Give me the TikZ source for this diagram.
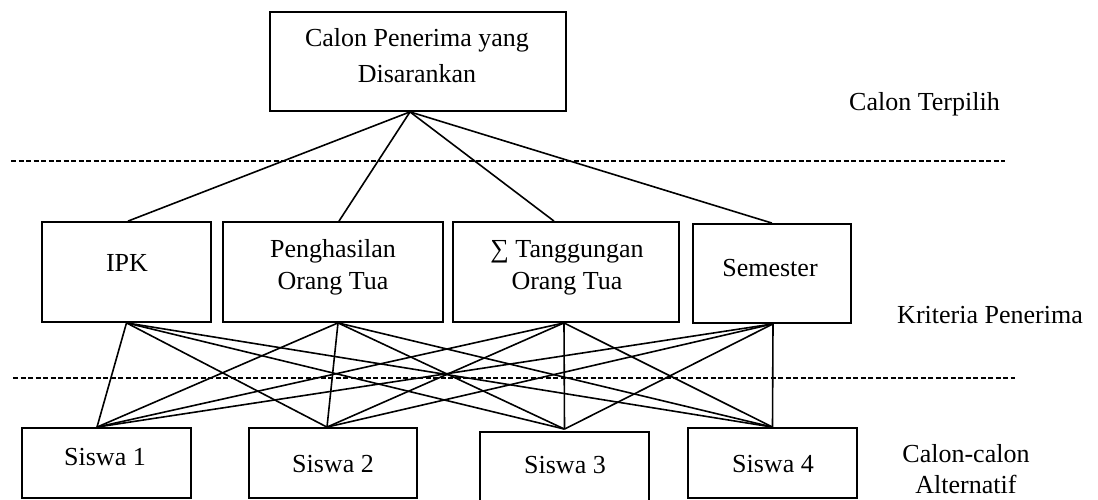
\documentclass[tikz,border=0pt]{standalone}
\usepackage{fontspec}
\setmainfont{Liberation Serif}
\begin{document}
\begin{tikzpicture}[x=1pt,y=-1pt,
  box/.style={draw, line width=1.8pt, inner sep=0pt},
  txt/.style={inner sep=0pt, align=center, font=\fontsize{26}{32}\selectfont},
  link/.style={line width=1.6pt},
  sep/.style={dash pattern=on 5pt off 2.5pt, line width=1.4pt}]
\useasboundingbox (0,0) rectangle (1098,500);

% top level
\node[box, minimum width=296pt, minimum height=99pt] (goal) at (418,61.5) {};
\node[txt] (goalT) at (417,56) {Calon Penerima yang\\[4pt]Disarankan};

% criteria
\node[box, minimum width=169pt, minimum height=100pt] (ipk)  at (126.5,272) {};
\node[box, minimum width=220pt, minimum height=100pt] (peng) at (333,272) {};
\node[box, minimum width=226pt, minimum height=100pt] (tang) at (566,272) {};
\node[box, minimum width=158pt, minimum height=99pt]  (sem)  at (772,273.5) {};
\node[txt] (ipkT)  at (127,263) {IPK};
\node[txt] (pengT) at (333,267) {Penghasilan\\Orang Tua};
\node[txt] (tangT) at (567,268) {∑ Tanggungan\\Orang Tua};
\node[txt] (semT)  at (770,268) {Semester};

% alternatives
\node[box, minimum width=169pt, minimum height=70pt] (s1) at (106.5,463) {};
\node[box, minimum width=168pt, minimum height=70pt] (s2) at (333,463) {};
\node[box, minimum width=169pt, minimum height=70pt] (s3) at (564.5,467) {};
\node[box, minimum width=169pt, minimum height=70pt] (s4) at (772.5,463) {};
\node[txt] (s1T) at (105,457) {Siswa 1};
\node[txt] (s2T) at (333,464) {Siswa 2};
\node[txt] (s3T) at (565,465) {Siswa 3};
\node[txt] (s4T) at (773,464) {Siswa 4};

% level labels
\node[txt] (lv1) at (924.5,104) {Calon Terpilih};
\node[txt] (lv2) at (990,315) {Kriteria Penerima};
\node[txt, font=\fontsize{26}{31}\selectfont] (lv3) at (966,469) {Calon-calon\\Alternatif};

% attachment points
\coordinate (apex) at ([xshift=-8pt]goal.south);
\coordinate (ipkN)  at ([xshift=1.5pt]ipk.north);
\coordinate (pengN) at ([xshift=6pt]peng.north);
\coordinate (tangN) at ([xshift=-12pt]tang.north);
\coordinate (semN)  at (sem.north);
\coordinate (ipkS)  at (ipk.south);
\coordinate (pengS) at ([xshift=5pt]peng.south);
\coordinate (tangS) at ([xshift=-2pt]tang.south);
\coordinate (semS)  at ([xshift=1pt]sem.south);
\coordinate (a1) at ([xshift=-9.5pt]s1.north);
\coordinate (a2) at ([xshift=-6pt]s2.north);
\coordinate (a3) at ([yshift=2pt]s3.north);
\coordinate (a4) at (s4.north);

% goal to criteria
\foreach \c in {ipkN,pengN,tangN,semN}
  \draw[link] (apex) -- (\c);

% criteria to alternatives
\foreach \c in {ipkS,pengS,tangS,semS}
  \foreach \a in {a1,a2,a3,a4}
    \draw[link] (\c) -- (\a);

% level separators
\coordinate (d1a) at (11,161);
\coordinate (d1b) at (1005,161);
\coordinate (d2a) at (13,378);
\coordinate (d2b) at (1015,378);
\draw[sep] (d1a) -- (d1b);
\draw[sep] (d2a) -- (d2b);
\end{tikzpicture}
\end{document}
